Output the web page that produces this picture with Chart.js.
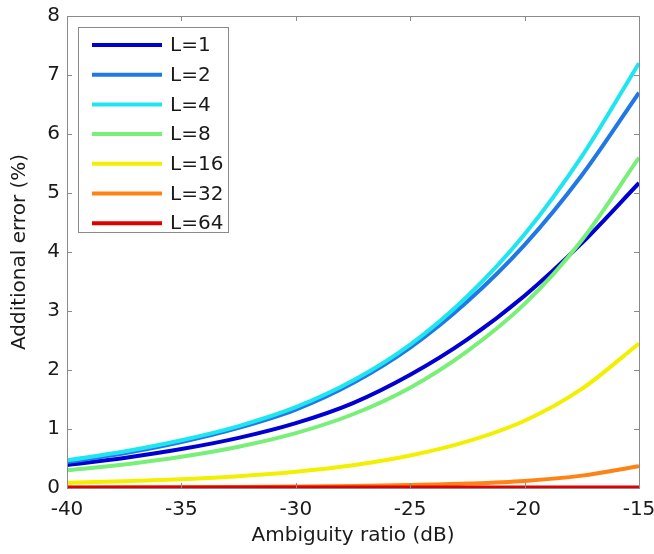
<!DOCTYPE html>
<html><head><meta charset="utf-8">
<script src="https://cdn.jsdelivr.net/npm/chart.js@4.4.0/dist/chart.umd.min.js"></script>
<style>html,body{margin:0;padding:0;background:#fff;}#wrap{width:654px;height:554px;}</style>
</head><body><div id="wrap"><canvas id="c" width="654" height="554"></canvas></div>
<script>
// ---- data ----
const ratioDb = [-40, -37.5, -35, -32.5, -30, -27.5, -25, -22.5, -20, -17.5, -15];
const seriesLabels = ['L=1', 'L=2', 'L=4', 'L=8', 'L=16', 'L=32', 'L=64'];
const errL1  = [0.39, 0.51, 0.66, 0.85, 1.10, 1.44, 1.92, 2.52, 3.26, 4.15, 5.17];
const errL2  = [0.44, 0.59, 0.78, 1.02, 1.33, 1.78, 2.38, 3.16, 4.12, 5.30, 6.70];
const errL4  = [0.47, 0.62, 0.81, 1.05, 1.37, 1.82, 2.43, 3.25, 4.30, 5.62, 7.20];
const errL8  = [0.30, 0.40, 0.53, 0.70, 0.93, 1.25, 1.70, 2.32, 3.12, 4.20, 5.60];
const errL16 = [0.09, 0.115, 0.15, 0.20, 0.275, 0.385, 0.55, 0.79, 1.14, 1.68, 2.45];
const errL32 = [0.005, 0.008, 0.012, 0.017, 0.025, 0.035, 0.05, 0.075, 0.12, 0.21, 0.37];
const errL64 = [0.01, 0.01, 0.01, 0.01, 0.01, 0.01, 0.01, 0.01, 0.01, 0.01, 0.01];
const xTickValues = [-40, -35, -30, -25, -20, -15];
const yTickValues = [0, 1, 2, 3, 4, 5, 6, 7, 8];

const seriesValues = [errL1, errL2, errL4, errL8, errL16, errL32, errL64];
const seriesColors = ['#0000d2', '#1f78e6', '#1ee6f0', '#78f078', '#f2f000', '#ff8214', '#e00000'];

const FONT = '"DejaVu Sans", sans-serif';
const TXT = '#1a1a1a';
const FRAME = '#8a8a8a';

const datasets = seriesValues.map((vals, i) => ({
  label: seriesLabels[i],
  data: vals.map((v, j) => ({x: ratioDb[j], y: v})),
  borderColor: seriesColors[i],
  backgroundColor: seriesColors[i],
  borderWidth: 4,
  pointRadius: 0,
  cubicInterpolationMode: 'monotone',
  fill: false,
  order: seriesValues.length - i
}));

const framePlugin = {
  id: 'frame',
  afterDatasetsDraw(chart) {
    const {ctx, chartArea: a, scales} = chart;
    ctx.save();
    ctx.strokeStyle = FRAME;
    ctx.lineWidth = 1;
    ctx.beginPath();
    xTickValues.forEach(v => {
      const px = Math.round(scales.x.getPixelForValue(v)) + 0.5;
      ctx.moveTo(px, a.bottom); ctx.lineTo(px, a.bottom - 5);
      ctx.moveTo(px, a.top); ctx.lineTo(px, a.top + 5);
    });
    yTickValues.forEach(v => {
      const py = Math.round(scales.y.getPixelForValue(v)) + 0.5;
      ctx.moveTo(a.left, py); ctx.lineTo(a.left + 5, py);
      ctx.moveTo(a.right, py); ctx.lineTo(a.right - 5, py);
    });
    ctx.stroke();
    ctx.strokeRect(Math.round(a.left) + 0.5, Math.round(a.top) + 0.5,
                   Math.round(a.right - a.left), Math.round(a.bottom - a.top));
    ctx.restore();
  },
  afterDraw(chart) {
    const {ctx, chartArea: a} = chart;
    const bx = a.left + 11, by = a.top + 11, bw = 150, bh = 205;
    ctx.save();
    ctx.fillStyle = '#fff';
    ctx.fillRect(bx, by, bw, bh);
    ctx.strokeStyle = FRAME;
    ctx.lineWidth = 1;
    ctx.strokeRect(Math.round(bx) + 0.5, Math.round(by) + 0.5, bw, bh);
    ctx.font = '20px ' + FONT;
    ctx.textBaseline = 'middle';
    ctx.textAlign = 'left';
    chart.data.datasets.forEach((ds, i) => {
      const cy = by + 18 + i * 29.7;
      ctx.strokeStyle = ds.borderColor;
      ctx.lineWidth = 4;
      ctx.beginPath();
      ctx.moveTo(bx + 14, cy); ctx.lineTo(bx + 84, cy);
      ctx.stroke();
      ctx.fillStyle = TXT;
      ctx.fillText(ds.label, bx + 92, cy + 1);
    });
    ctx.restore();
  }
};

new Chart(document.getElementById('c'), {
  type: 'line',
  data: {datasets},
  plugins: [framePlugin],
  options: {
    responsive: false,
    animation: false,
    devicePixelRatio: 1,
    layout: {padding: {left: 0, top: 16, right: 15, bottom: 0}},
    plugins: {legend: {display: false}, tooltip: {enabled: false}},
    scales: {
      x: {
        type: 'linear', min: -40, max: -15,
        afterBuildTicks(s) { s.ticks = xTickValues.map(v => ({value: v})); },
        afterFit(s) { s.height = 66; s.paddingLeft = 0; s.paddingRight = 0; },
        grid: {display: false, drawTicks: false},
        border: {display: false},
        ticks: {color: TXT, font: {family: FONT, size: 20}, padding: 10, maxRotation: 0, autoSkip: false},
        title: {display: true, text: 'Ambiguity ratio (dB)', color: TXT, font: {family: FONT, size: 20}, padding: {top: 0, bottom: 6}}
      },
      y: {
        type: 'linear', min: 0, max: 8,
        afterBuildTicks(s) { s.ticks = yTickValues.map(v => ({value: v})); },
        afterFit(s) { s.width = 67; s.paddingTop = 0; s.paddingBottom = 0; },
        grid: {display: false, drawTicks: false},
        border: {display: false},
        ticks: {color: TXT, font: {family: FONT, size: 20}, padding: 7, autoSkip: false},
        title: {display: true, text: 'Additional error (%)', color: TXT, font: {family: FONT, size: 20}, padding: {top: 8, bottom: 0}}
      }
    }
  }
});
</script></body></html>
